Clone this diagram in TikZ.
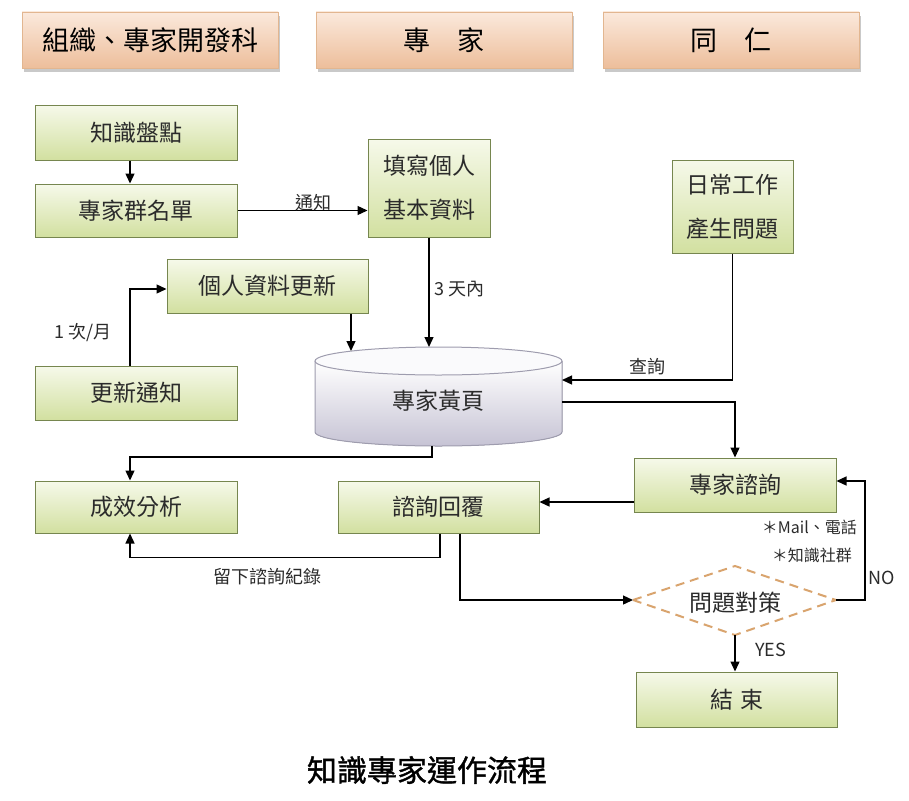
\documentclass[tikz,border=0pt]{standalone}
\usepackage{fontspec}
\setmainfont{Noto Sans CJK TC}
\newfontfamily\titlefont[FakeBold=1.2]{Noto Sans CJK TC}
\usetikzlibrary{arrows.meta,shapes.geometric,shadows,calc}
\definecolor{gborder}{HTML}{76864F}
\definecolor{gtop}{HTML}{F6F9EA}
\definecolor{gbot}{HTML}{D2E0A0}
\definecolor{ptop}{HTML}{FBE9DC}
\definecolor{pbot}{HTML}{EDBE9B}
\definecolor{pborder}{HTML}{E2B690}
\definecolor{dash}{HTML}{D9A46E}
\definecolor{txt}{HTML}{2B2B2B}
\definecolor{cylb}{HTML}{C6C3D4}
\definecolor{cyll}{HTML}{9E9CAE}
\begin{document}
\begin{tikzpicture}[x=1pt,y=-1pt,
  gbox/.style={draw=gborder, line width=1pt, top color=gtop, bottom color=gbot,
    text=txt, font=\fontsize{23}{27}\selectfont, inner sep=0pt, align=center},
  hbox/.style={draw=pborder, line width=0.6pt, top color=ptop, bottom color=pbot,
    drop shadow={shadow xshift=2pt, shadow yshift=-4pt, fill=black!35, opacity=0.6},
    minimum width=256pt, minimum height=56pt, inner sep=0pt, text=black,
    font=\fontsize{27}{30}\selectfont},
  arr/.style={draw=black, line width=1.3pt, -{Triangle[length=10pt,width=9pt]}},
  lbl/.style={text=txt, font=\fontsize{18}{22}\selectfont, inner sep=0pt},
  smlbl/.style={text=txt, font=\fontsize{16}{20}\selectfont, inner sep=0pt},
  dashline/.style={draw=dash, line width=2pt, dash pattern=on 9pt off 6pt},
  ]
\useasboundingbox (0,0) rectangle (909,800);
\fill[white] (0,0) rectangle (909,800);

% headers
\node[hbox] (h1) at (150,40) {組織、專家開發科};
\node[hbox] (h2) at (444,40) {專　家};
\node[hbox] (h3) at (731,40) {同　仁};

% cylinder
\fill[top color=white, bottom color=cylb]
  (315,361) -- (315,432) arc[start angle=180, end angle=360, x radius=123.5pt, y radius=14pt]
  -- (562,361) -- cycle;
\draw[cyll, line width=1pt]
  (315,361) -- (315,432) arc[start angle=180, end angle=360, x radius=123.5pt, y radius=14pt]
  -- (562,361);
\draw[cyll, line width=1pt, fill=white!92!cylb] (438.5,361) ellipse[x radius=123.5pt, y radius=14pt];
\node[text=txt, font=\fontsize{23}{27}\selectfont, inner sep=0pt] (yp) at (438.5,401) {專家黃頁};
\coordinate (ydA) at (351,351);
\coordinate (ydB) at (429,347);
\coordinate (ydQ) at (562,380);
\coordinate (ydR) at (562,402);
\coordinate (ydD) at (432,446);

% boxes
\node[gbox, minimum width=202pt, minimum height=55pt] (a) at (136,132.5) {知識盤點};
\node[gbox, minimum width=202pt, minimum height=53pt] (b) at (136,210.5) {專家群名單};
\node[gbox, minimum width=122pt, minimum height=98pt, font=\fontsize{23}{44}\selectfont] (c) at (429,188) {填寫個人\\基本資料};
\node[gbox, minimum width=201pt, minimum height=54pt] (d) at (267.5,286) {個人資料更新};
\node[gbox, minimum width=202pt, minimum height=54pt] (e) at (136,393) {更新通知};
\node[gbox, minimum width=121pt, minimum height=93pt, font=\fontsize{23}{44}\selectfont] (f) at (732.5,206.5) {日常工作\\產生問題};
\node[gbox, minimum width=202pt, minimum height=52pt] (g) at (136,507) {成效分析};
\node[gbox, minimum width=201pt, minimum height=52pt] (h) at (438.5,507) {諮詢回覆};
\node[gbox, minimum width=202pt, minimum height=54pt] (i) at (735,485) {專家諮詢};

% decision diamond
\node[text=txt, font=\fontsize{23}{27}\selectfont, inner sep=0pt] (j) at (735,603) {問題對策};
\coordinate (jW) at (633,600);
\coordinate (jN) at (735,566);
\coordinate (jE) at (836,600);
\coordinate (jS) at (735,635);
\draw[dashline] (jW) -- (jN) -- (jE) -- (jS) -- cycle;

\node[gbox, minimum width=201pt, minimum height=55pt] (k) at (737,699.5) {結\hspace{0.3em}束};

% connectors
\draw[arr] ([xshift=-6pt]a.south) -- ([xshift=-6pt]b.north);
\draw[arr] (b.east) -- (b.east -| c.west);
\node[lbl, anchor=south] (l1) at (313,211) {通知};
\draw[arr] (c.south) -- (ydB);
\node[lbl, anchor=west] (l2) at (434,289) {3 天內};
\draw[arr] ([xshift=83.5pt]d.south) -- (ydA);
\draw[arr] ([xshift=-6pt]e.north) |- ([yshift=-3pt]d.west);
\node[lbl] (l3) at (83,333) {1 次/月};
\draw[arr] (f.south) |- (ydQ);
\node[lbl, anchor=south] (l4) at (647,375) {查詢};
\draw[arr] (ydR) -| (i.north);
\draw[arr] (ydD) -- ++(0,11) -| ([xshift=-6pt]g.north);
\draw[arr] ([yshift=-17pt]i.west) -- ([yshift=-17pt]i.west -| h.east);
\draw[arr] ([xshift=1.5pt]h.south) -- ++(0,24) -| ([xshift=-6pt]g.south);
\node[lbl] (l5) at (267,577) {留下諮詢紀錄};
\draw[arr] ([xshift=21.5pt]h.south) |- (jW);
\draw[arr] (jE) -- ++(29,0) |- ([yshift=4pt]i.east);
\node[lbl, anchor=west] (l6) at (868,578) {NO};
\node[smlbl, anchor=east] (l7) at (857,527) {＊Mail、電話};
\node[smlbl, anchor=east] (l8) at (852,555) {＊知識社群};
\draw[arr] (jS) -- (jS |- k.north);
\node[lbl, anchor=west] (l9) at (755,650) {YES};

% title
\node[text=black, font=\titlefont\fontsize{30}{34}\selectfont, inner sep=0pt] (t) at (427,770) {知識專家運作流程};
\end{tikzpicture}
\end{document}
